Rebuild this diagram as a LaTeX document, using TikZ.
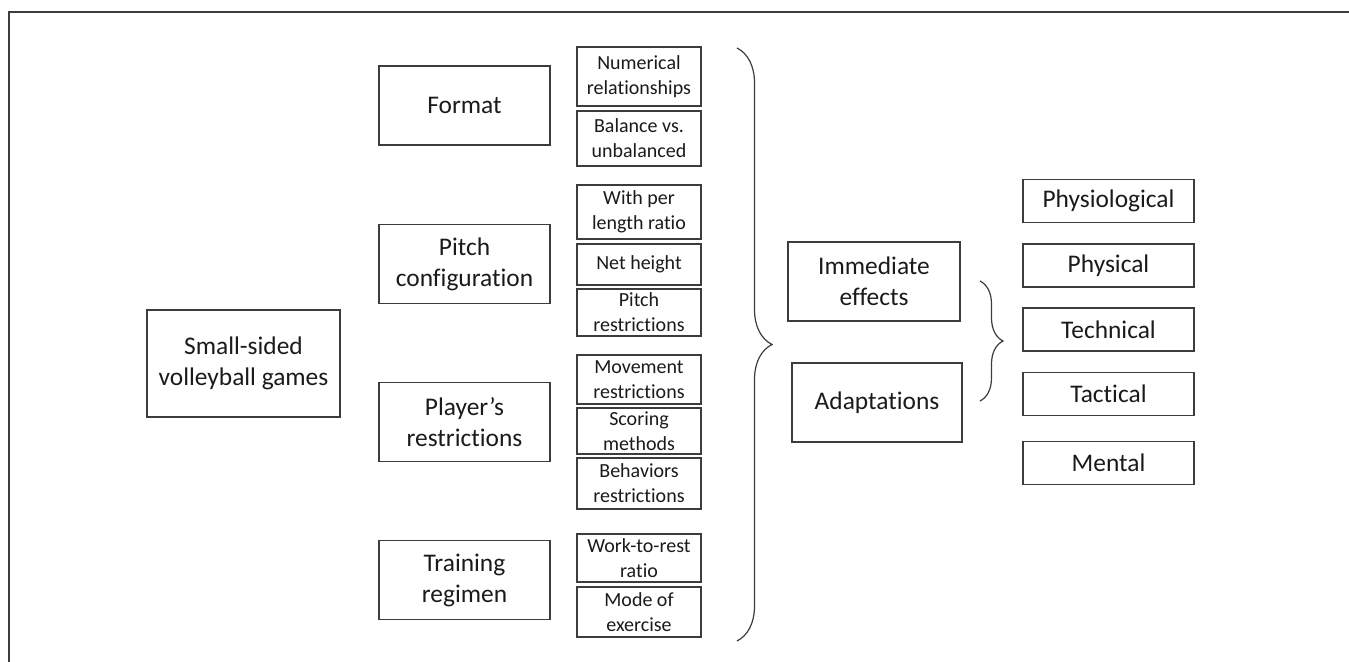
\documentclass[tikz,border=0pt]{standalone}
\usepackage{fontspec}
\setmainfont{Carlito}[Ligatures=NoCommon]
\usepackage{tikz}
\usetikzlibrary{decorations.pathreplacing}
\definecolor{boxGray}{HTML}{3C3C3C}
\definecolor{textBlack}{HTML}{1A1A1A}

\begin{document}
\begin{tikzpicture}[x=0.5pt, y=-0.5pt,
  bigbox/.style={draw=boxGray, line width=0.65pt, inner sep=0pt,
                 minimum width=85.5pt, minimum height=39.5pt,
                 font=\fontsize{12.7}{15.5}\selectfont, text=textBlack, align=center},
  subbox/.style={draw=boxGray, line width=0.65pt, inner sep=0pt,
                 minimum width=62pt,
                 font=\fontsize{10}{12.4}\selectfont, text=textBlack, align=center},
  outbox/.style={bigbox, minimum height=21.5pt},
  curly/.style={decorate, decoration={brace, amplitude=#1},
                draw=boxGray, line width=0.6pt}
]
\useasboundingbox (0,0) rectangle (1349,662);
\draw[boxGray, line width=0.6pt] (9,662) -- (9,12) -- (1349,12);

% root
\node[bigbox, minimum width=96.5pt, minimum height=53.5pt] (games) at (243.5,363.5) {Small-sided\\volleyball games};

% dimensions
\node[bigbox] (format)   at (464.5,105.5) {Format};
\node[bigbox] (pitch)    at (464.5,264)   {Pitch\\configuration};
\node[bigbox] (player)   at (464.5,422)   {Player’s\\restrictions};
\node[bigbox] (training) at (464.5,580)   {Training\\regimen};

% sub-variables
\node[subbox, minimum height=29.5pt] (numeric)  at (639,76.5)  {Numerical\\relationships};
\node[subbox, minimum height=27.5pt] (balance)  at (639,138.5) {Balance vs.\\unbalanced};
\node[subbox, minimum height=27pt]   (ratio)    at (639,212)   {With per\\length ratio};
\node[subbox, minimum height=20.5pt] (net)      at (639,264.5) {Net height};
\node[subbox, minimum height=23.5pt] (pitchres) at (639,312.5) {Pitch\\restrictions};
\node[subbox, minimum height=24.5pt] (moveres)  at (639,379.5) {Movement\\restrictions};
\node[subbox, minimum height=23pt]   (scoring)  at (639,431)   {Scoring\\methods};
\node[subbox, minimum height=25.5pt] (behave)   at (639,483.5) {Behaviors\\restrictions};
\node[subbox, minimum height=24pt]   (workrest) at (639,558)   {Work-to-rest\\ratio};
\node[subbox, minimum height=25pt]   (mode)     at (639,612)   {Mode of\\exercise};

% effects
\node[bigbox, minimum width=86pt] (immediate) at (874,281.5) {Immediate\\effects};
\node[bigbox, minimum width=85pt] (adapt)     at (877,402.5) {Adaptations};

% outcomes
\node[outbox] (physio)   at (1108.5,201)   {Physiological};
\node[outbox] (physical) at (1108.5,265.5) {Physical};
\node[outbox] (technic)  at (1108.5,329.5) {Technical};
\node[outbox] (tactic)   at (1108.5,394)   {Tactical};
\node[outbox] (mental)   at (1108.5,463)   {Mental};

% braces
\coordinate (bigTop) at (737,48);
\coordinate (bigBot) at (737,641);
\coordinate (effTop) at (980,281);
\coordinate (effBot) at (980,401);
\draw[curly=17.5pt] (bigTop) -- (bigBot);
\draw[curly=11.5pt] (effTop) -- (effBot);
\end{tikzpicture}
\end{document}
